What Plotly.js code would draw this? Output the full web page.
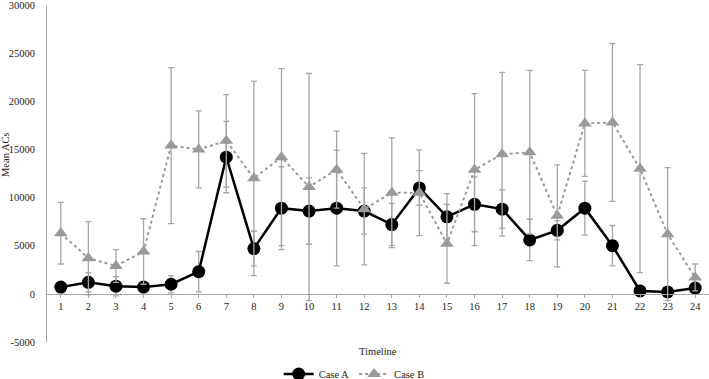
<!DOCTYPE html>
<html>
<head>
<meta charset="utf-8">
<script src="https://cdn.plot.ly/plotly-3.0.1.min.js"></script>
<style>
  html, body { margin: 0; padding: 0; background: #fff; }
  #chart { width: 709px; height: 379px; }
</style>
</head>
<body>
<div id="chart"></div>
<script>
// Timeline points (x categories)
const timeline = [1, 2, 3, 4, 5, 6, 7, 8, 9, 10, 11, 12, 13, 14, 15, 16, 17, 18, 19, 20, 21, 22, 23, 24];

// Case A: mean ACs and error (±)
const caseA = [700, 1200, 800, 700, 1000, 2300, 14200, 4700, 8900, 8600, 8900, 8600,
               7200, 11000, 8000, 9300, 8800, 5600, 6600, 8900, 5000, 300, 200, 600];
const caseAErr = [400, 1000, 1000, 500, 900, 2100, 3700, 1800, 4300, 3450, 6000, 2400,
                  2200, 1800, 2400, 2850, 2000, 2150, 1000, 2800, 2100, 100, 100, 300];

// Case B: mean ACs and error (±)
const caseB = [6300, 3700, 2900, 4400, 15400, 15000, 15900, 12000, 14200, 11100, 12900, 8800,
               10500, 10500, 5200, 12900, 14500, 14700, 8100, 17700, 17800, 13000, 6200, 1700];
const caseBErr = [3200, 3800, 1700, 3400, 8100, 4000, 4800, 10100, 9200, 11800, 4000, 5800,
                  5700, 4450, 4100, 7900, 8500, 8500, 5300, 5500, 8200, 10800, 6900, 1400];

// Axis ticks
const yTickVals = [-5000, 0, 5000, 10000, 15000, 20000, 25000, 30000];
const yTickText = yTickVals.map(v => String(v));
const xTickVals = timeline;

const FONT = 'Liberation Serif, Times New Roman, serif';
const TEXT = '#222222';
const FS = 10.5;
const AXIS_GREY = '#a6a6a6';
const yRange = [-5000, 30000];

const errStyle = (arr) => ({
  type: 'data', array: arr, symmetric: true, visible: true,
  color: AXIS_GREY, thickness: 1.3, width: 3
});

const traces = [
  {
    name: 'Case A', x: timeline, y: caseA, type: 'scatter', mode: 'lines+markers',
    line: { color: '#000000', width: 2.5 },
    marker: { symbol: 'circle', size: 13, color: '#000000' },
    error_y: errStyle(caseAErr)
  },
  {
    name: 'Case B', x: timeline, y: caseB, type: 'scatter', mode: 'lines+markers',
    line: { color: '#9a9a9a', width: 2, dash: 'dot' },
    marker: { symbol: 'triangle-up', size: 12, color: '#9a9a9a' },
    error_y: errStyle(caseBErr)
  }
];

// x axis sits on y = 0
const zeroPos = (0 - yRange[0]) / (yRange[1] - yRange[0]);

const layout = {
  width: 709, height: 379,
  margin: { l: 47, r: 0, t: 5, b: 37, autoexpand: false },
  paper_bgcolor: '#ffffff', plot_bgcolor: '#ffffff',
  font: { family: FONT, size: FS, color: TEXT },
  showlegend: true,
  legend: {
    orientation: 'h', x: 0.464, xanchor: 'center', y: -0.095, yanchor: 'middle',
    font: { family: FONT, size: FS, color: TEXT },
    bgcolor: 'rgba(0,0,0,0)', itemwidth: 30, traceorder: 'normal'
  },
  xaxis: {
    range: [0.5, 24.5], tickmode: 'array', tickvals: xTickVals, ticktext: xTickVals.map(String),
    anchor: 'free', position: zeroPos,
    showline: true, linecolor: AXIS_GREY, linewidth: 1,
    ticks: 'outside', ticklen: 3, tickcolor: AXIS_GREY, tickwidth: 1,
    showgrid: false, zeroline: false,
    tickfont: { family: FONT, size: FS, color: TEXT }
  },
  yaxis: {
    range: yRange, tickmode: 'array', tickvals: yTickVals, ticktext: yTickText,
    showline: true, linecolor: AXIS_GREY, linewidth: 1,
    ticks: '', ticklabelstandoff: 9, ticklabeloverflow: 'allow',
    showgrid: false, zeroline: false,
    tickfont: { family: FONT, size: FS, color: TEXT }
  },
  annotations: [
    {
      text: 'Mean ACs', xref: 'paper', yref: 'paper', x: (5 - 47) / 662, y: (342 - 155) / 337,
      xanchor: 'center', yanchor: 'middle', textangle: -90, showarrow: false,
      font: { family: FONT, size: FS, color: TEXT }
    },
    {
      text: 'Timeline', xref: 'paper', yref: 'paper', x: 0.5, y: (342 - 352) / 337,
      xanchor: 'center', yanchor: 'middle', showarrow: false,
      font: { family: FONT, size: FS, color: TEXT }
    }
  ]
};

Plotly.newPlot('chart', traces, layout, { displayModeBar: false, staticPlot: true });
</script>
</body>
</html>
